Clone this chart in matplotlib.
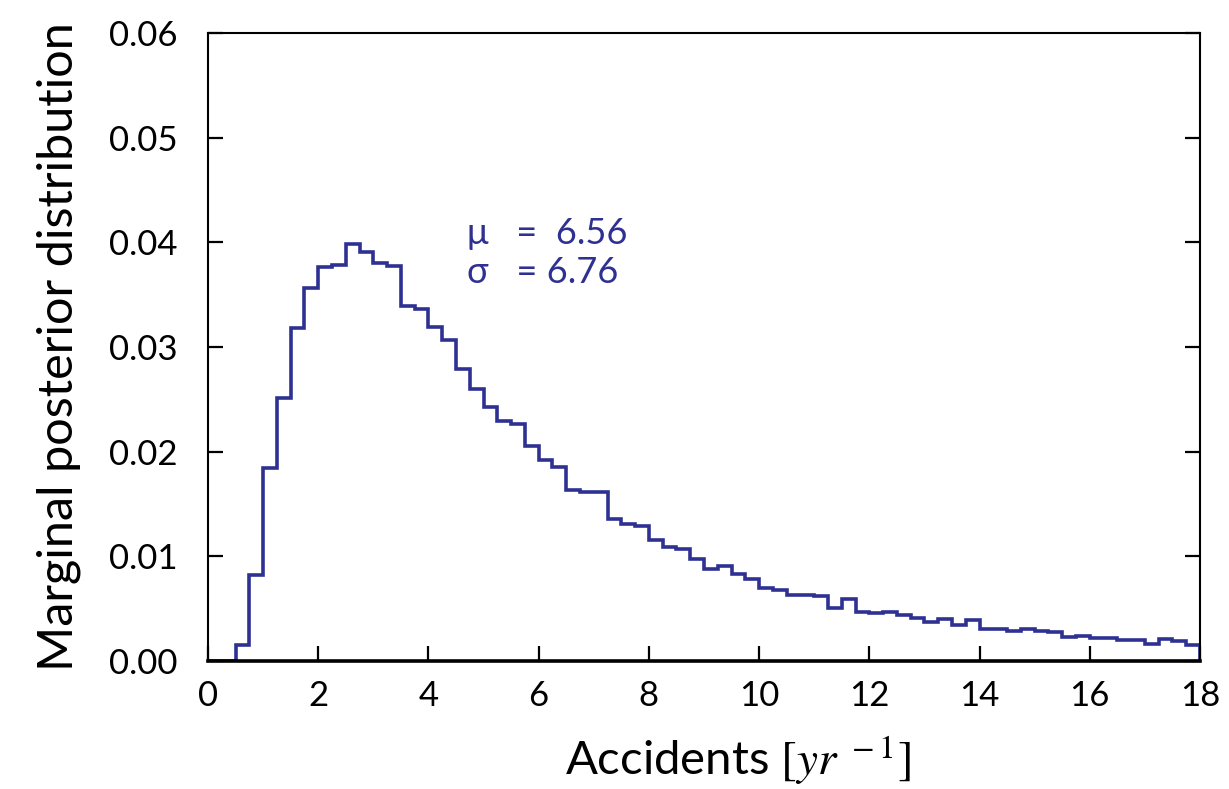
import numpy as np
import matplotlib
matplotlib.use("Agg")
import matplotlib.pyplot as plt

# histogram of accidents per year, bin width 0.25
bin_edges = np.linspace(0, 18, 73)
density = [0.0000, 0.0000, 0.0015, 0.0082, 0.0184, 0.0251, 0.0318, 0.0356,
           0.0376, 0.0378, 0.0398, 0.0391, 0.0380, 0.0377, 0.0339, 0.0336,
           0.0319, 0.0307, 0.0279, 0.0260, 0.0243, 0.0229, 0.0226, 0.0205,
           0.0192, 0.0185, 0.0163, 0.0161, 0.0161, 0.0136, 0.0131, 0.0129,
           0.0116, 0.0109, 0.0107, 0.0097, 0.0088, 0.0091, 0.0083, 0.0078,
           0.0070, 0.0068, 0.0063, 0.0063, 0.0062, 0.0051, 0.0059, 0.0047,
           0.0046, 0.0047, 0.0044, 0.0041, 0.0037, 0.0040, 0.0034, 0.0039,
           0.0031, 0.0031, 0.0029, 0.0031, 0.0029, 0.0028, 0.0023, 0.0024,
           0.0022, 0.0022, 0.0020, 0.0020, 0.0016, 0.0021, 0.0019, 0.0015]
mu_text = "\u03bc   =  6.56"
sigma_text = "\u03c3   = 6.76"

plt.rcParams['font.family'] = ['Lato', 'DejaVu Sans']
plt.rcParams['mathtext.fontset'] = 'stix'

blue = "#2e3192"

fig = plt.figure(figsize=(12.29, 7.89), dpi=100)
ax = fig.add_axes([0.1692, 0.1622, 0.8072, 0.796])

ax.stairs(density, bin_edges, color=blue, linewidth=2.6)

ax.set_xlim(0, 18)
ax.set_ylim(0, 0.06)
ax.set_xticks(np.arange(0, 19, 2))
ax.set_yticks(np.arange(0, 0.061, 0.01))
ax.set_yticklabels(["0.00", "0.01", "0.02", "0.03", "0.04", "0.05", "0.06"])

ax.tick_params(axis='both', direction='in', length=11, width=1.6, labelsize=25)
ax.tick_params(axis='x', pad=14)
ax.tick_params(axis='y', pad=22, right=True)
for s in ax.spines.values():
    s.set_linewidth(1.5)
ax.spines['bottom'].set_linewidth(2.6)

ax.set_ylabel("Marginal posterior distribution", fontsize=35)
ax.yaxis.set_label_coords(-0.128, 0.5)
ax.set_xlabel(r"Accidents $[\mathit{yr}^{\ -1}]$", fontsize=34)
ax.xaxis.set_label_coords(0.534, -0.115)

ax.text(4.7, 0.0398, mu_text, color=blue, fontsize=26, va='baseline')
ax.text(4.7, 0.0361, sigma_text, color=blue, fontsize=26, va='baseline')

fig.savefig("out.png", dpi=100)
